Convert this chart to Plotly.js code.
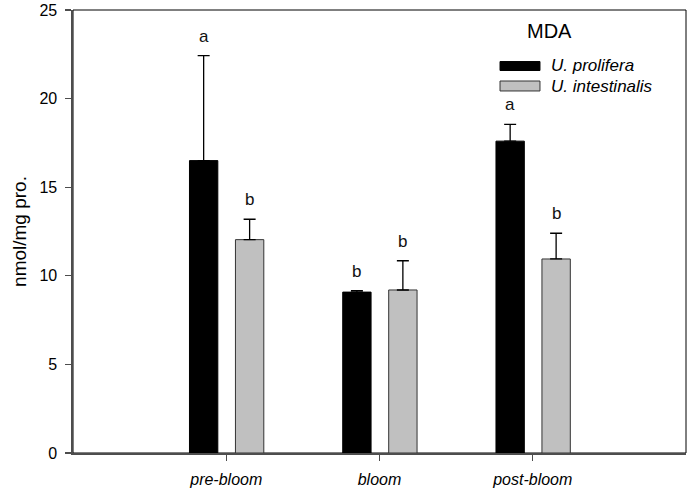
<!DOCTYPE html>
<html>
<head>
<meta charset="utf-8">
<script src="https://cdn.plot.ly/plotly-3.0.1.min.js"></script>
<style>html,body{margin:0;padding:0;background:#fff;}#chart{width:692px;height:493px;}</style>
</head>
<body>
<div id="chart"></div>
<script>
// ---- data ----
var stages = ["pre-bloom", "bloom", "post-bloom"];
var seriesNames = ["U. prolifera", "U. intestinalis"];
var prolifera = [16.5, 9.08, 17.6];
var proliferaErr = [5.92, 0.08, 0.95];
var intestinalis = [12.04, 9.2, 10.95];
var intestinalisErr = [1.15, 1.65, 1.45];
var proliferaLetters = ["a", "b", "a"];
var intestinalisLetters = ["b", "b", "b"];
var legendTitle = "MDA";
var yTitle = "nmol/mg pro.";
var yTicks = [0, 5, 10, 15, 20, 25];

// ---- chart ----
var FONT = "Liberation Sans, Arial, sans-serif";
var idx = stages.map(function (s, i) { return i; });
var barW = 0.185;
var offA = -0.24, offB = 0.06;

var traceA = {
  type: "bar", name: seriesNames[0], x: idx, y: prolifera,
  width: barW, offset: offA,
  marker: { color: "#000000", line: { color: "#000000", width: 1 } },
  error_y: { type: "data", array: proliferaErr, arrayminus: proliferaErr.map(function () { return 0; }),
             symmetric: false, color: "#000000", thickness: 1.3, width: 6 },
  showlegend: false, hoverinfo: "none"
};
var traceB = {
  type: "bar", name: seriesNames[1], x: idx, y: intestinalis,
  width: barW, offset: offB,
  marker: { color: "#c0c0c0", line: { color: "#333333", width: 1 } },
  error_y: { type: "data", array: intestinalisErr, arrayminus: intestinalisErr.map(function () { return 0; }),
             symmetric: false, color: "#000000", thickness: 1.3, width: 6 },
  showlegend: false, hoverinfo: "none"
};

var annotations = [];
idx.forEach(function (i) {
  annotations.push({ x: i + offA + barW / 2, y: prolifera[i] + proliferaErr[i], xref: "x", yref: "y",
    text: proliferaLetters[i], showarrow: false, yanchor: "bottom", yshift: 8,
    font: { family: FONT, size: 17, color: "#111" } });
  annotations.push({ x: i + offB + barW / 2, y: intestinalis[i] + intestinalisErr[i], xref: "x", yref: "y",
    text: intestinalisLetters[i], showarrow: false, yanchor: "bottom", yshift: 8,
    font: { family: FONT, size: 17, color: "#111" } });
});
// custom legend
annotations.push({ x: 0.778, y: 0.953, xref: "paper", yref: "paper", text: legendTitle, showarrow: false,
  xanchor: "center", yanchor: "middle", font: { family: FONT, size: 20, color: "#000" } });
annotations.push({ x: 0.776, y: 0.8758, xref: "paper", yref: "paper", text: "<i>" + seriesNames[0] + "</i>",
  showarrow: false, xanchor: "left", yanchor: "middle", font: { family: FONT, size: 17, color: "#000" } });
annotations.push({ x: 0.776, y: 0.8262, xref: "paper", yref: "paper", text: "<i>" + seriesNames[1] + "</i>",
  showarrow: false, xanchor: "left", yanchor: "middle", font: { family: FONT, size: 17, color: "#000" } });

var shapes = [
  { type: "rect", xref: "paper", yref: "paper", x0: 0, x1: 1, y0: 0, y1: 1,
    line: { color: "#000", width: 1 }, layer: "below" },
  { type: "rect", xref: "paper", yref: "paper", x0: 0.6966, x1: 0.7618, y0: 0.8634, y1: 0.8837,
    fillcolor: "#000", line: { color: "#000", width: 1 } },
  { type: "rect", xref: "paper", yref: "paper", x0: 0.6966, x1: 0.7618, y0: 0.8172, y1: 0.8397,
    fillcolor: "#c0c0c0", line: { color: "#333", width: 1 } }
];

var layout = {
  width: 692, height: 493,
  margin: { l: 73, r: 6, t: 10, b: 40 },
  paper_bgcolor: "#fff", plot_bgcolor: "#fff",
  showlegend: false,
  font: { family: FONT, color: "#000" },
  xaxis: {
    range: [-1, 3], tickmode: "array", tickvals: idx,
    ticktext: stages.map(function (s) { return "<i>" + s + "</i>"; }),
    ticks: "outside", ticklen: 6, tickwidth: 1.3, tickcolor: "#4d4d4d",
    showline: true, linecolor: "#4d4d4d", linewidth: 1.6,
    showgrid: false, zeroline: false, fixedrange: true,
    tickfont: { family: FONT, size: 16, color: "#000" }, ticklabelstandoff: 5
  },
  yaxis: {
    range: [0, 25], tickmode: "array", tickvals: yTicks,
    ticks: "outside", ticklen: 6, tickwidth: 1.3, tickcolor: "#4d4d4d",
    showline: true, linecolor: "#4d4d4d", linewidth: 1.6,
    showgrid: false, zeroline: false, fixedrange: true,
    tickfont: { family: FONT, size: 16, color: "#000" }, ticklabelstandoff: 5,
    title: { text: yTitle, font: { family: FONT, size: 19, color: "#000" }, standoff: 8 }
  },
  annotations: annotations,
  shapes: shapes
};

Plotly.newPlot("chart", [traceA, traceB], layout, { staticPlot: true, displayModeBar: false });
</script>
</body>
</html>
